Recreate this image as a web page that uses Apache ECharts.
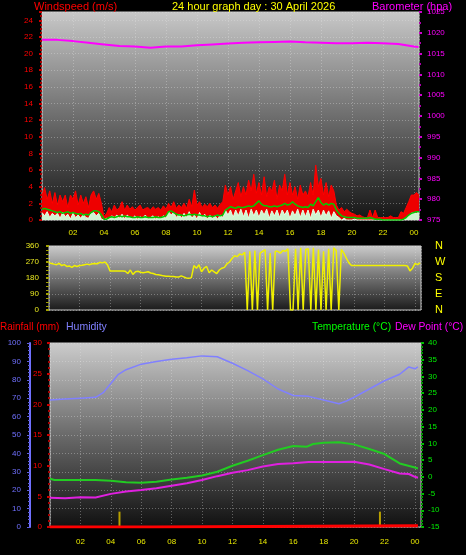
<!DOCTYPE html>
<html><head><meta charset="utf-8">
<script src="https://cdn.jsdelivr.net/npm/echarts@6/dist/echarts.min.js"></script>
<style>html,body{margin:0;padding:0;background:#000;}#c{width:466px;height:555px;}</style>
</head><body><div id="c"></div>
<script>
// ---- Wind (10-minute samples, hour 0 .. 24.33) ----
const gustValues = [
3.0,3.9,2.5,3.5,2.0,3.3, 1.8,3.0,2.2,3.0,1.5,3.0, 2.5,3.5,1.8,3.0,2.0,2.8, 1.5,3.0,3.5,2.5,3.2,2.0,
0.4,0.8,1.5,1.0,1.8,1.2, 1.5,2.2,1.2,1.8,1.3,1.6, 1.2,1.5,1.8,1.2,1.4,1.5, 1.2,1.6,1.3,1.5,1.2,1.7,
1.3,2.0,1.5,2.2,1.4,1.8, 1.5,2.0,1.4,2.5,1.6,3.6, 1.8,2.2,1.5,1.9,1.6,2.0, 1.5,1.8,1.4,1.9,2.2,4.2,
3.0,4.0,2.5,3.5,4.5,2.8, 4.0,3.0,4.8,3.5,5.5,3.2, 4.5,3.0,5.2,2.8,4.0,3.5, 4.8,2.5,4.2,3.5,5.5,3.0,
4.5,3.0,4.0,2.5,4.2,3.0, 3.5,2.8,4.5,3.0,6.6,4.0, 5.0,3.0,4.5,2.8,4.2,3.5, 1.8,1.2,1.5,1.0,1.3,1.0,
0.8,0.7,0.5,0.6,0.4,0.3, 0.3,1.2,0.3,1.2,0.3,0.3, 0.3,0.3,0.3,0.5,0.3,0.3, 0.3,1.0,0.8,1.5,2.2,3.0,
3.0,3.3,3.0];
const avgValues = [
1.3,1.4,1.3,1.2,1.1,1.0, 0.9,1.0,0.8,0.9,1.0,0.8, 0.9,0.8,0.7,0.8,0.6,0.7, 0.6,0.9,1.1,1.1,1.0,0.6,
0.1,0.1,0.3,0.4,0.3,0.4, 0.5,0.4,0.5,0.4,0.4,0.3, 0.3,0.4,0.3,0.3,0.4,0.3, 0.3,0.3,0.4,0.3,0.3,0.4,
0.5,1.0,1.1,0.9,0.7,0.6, 0.6,0.5,0.6,0.7,0.6,0.7, 0.6,0.6,0.5,0.5,0.4,0.5, 0.4,0.5,0.6,0.5,0.6,1.2,
1.4,1.6,1.5,1.4,1.6,1.5, 1.5,1.6,1.7,1.6,1.7,2.0, 2.3,1.9,1.7,1.7,1.6,1.6, 1.7,1.6,1.7,1.8,2.0,1.8,
1.9,2.2,1.9,1.7,1.6,1.5, 1.6,1.5,1.9,1.7,2.2,2.7, 2.1,1.8,2.0,1.8,2.0,1.9, 1.2,0.8,0.5,0.4,0.3,0.3,
0.3,0.3,0.2,0.2,0.2,0.2, 0.2,0.3,0.2,0.1,0.1,0.1, 0.0,0.0,0.0,0.0,0.0,0.0, 0.0,0.0,0.1,0.3,0.6,0.8,
0.9,1.0,1.0];
const speedValues = [
0.9,0.5,1.0,0.3,0.8,0.5, 0.8,0.2,0.9,0.4,0.7,0.1, 0.8,0.3,0.6,0.2,0.7,0.3, 0.2,0.8,0.9,0.5,0.8,0.1,
0.0,0.2,0.1,0.5,0.3,0.6, 0.2,0.7,0.1,0.6,0.3,0.2, 0.5,0.1,0.4,0.2,0.6,0.1, 0.3,0.5,0.1,0.4,0.2,0.5,
0.2,1.0,0.6,0.9,0.3,0.7, 0.2,0.8,0.3,1.0,0.2,0.6, 0.1,0.9,0.3,0.7,0.1,0.6, 0.2,0.5,0.1,0.6,0.3,1.2,
0.6,1.2,0.3,1.2,0.5,1.3, 0.4,1.2,0.2,1.3,0.5,1.2, 0.3,1.2,0.6,1.3,0.2,1.1, 0.5,1.2,0.3,1.2,0.6,1.2,
0.2,1.1,0.5,1.3,0.3,1.2, 0.4,1.2,0.2,1.3,0.6,1.2, 0.3,1.2,0.5,1.1,0.2,1.0, 0.5,0.3,0.0,0.2,0.0,0.0,
0.0,0.1,0.0,0.0,0.0,0.0, 0.0,0.0,0.0,0.0,0.0,0.0, 0.0,0.0,0.0,0.0,0.0,0.0, 0.0,0.0,0.0,0.2,0.5,0.8,
0.9,0.8,1.0];
// ---- Barometer (hourly) ----
const baroTimes = [0,1,2,3,4,5,6,7,8,9,10,11,12,13,14,15,16,17,18,19,20,21,22,23,24,24.3];
const baroValues = [1018.3,1018.3,1018.0,1017.6,1017.2,1016.8,1016.7,1016.4,1016.7,1016.7,1017.0,1017.2,1017.4,1017.6,1017.7,1017.8,1017.9,1017.7,1017.6,1017.5,1017.5,1017.6,1017.5,1017.3,1016.7,1016.6];
// ---- Wind direction (10-minute samples) ----
const dirValues = [
265,262,258,255,262,250, 255,245,248,240,250,245, 250,252,255,258,255,260, 262,260,268,265,270,255,
220,220,220,220,220,220, 218,205,225,200,215,218, 212,210,212,215,208,205, 200,198,195,192,190,190,
188,188,186,185,192,186, 180,178,182,250,235,255, 215,235,245,210,225,215, 205,225,235,240,260,270,
290,305,300,315,310,325, 0,330,0,335,0,320, 330,340,0,320,0,330, 330,320,335,330,345,0,
0,345,0,350,0,340, 345,0,350,0,340,0, 330,0,345,0,350,335, 0,340,320,290,265,250,
250,250,250,250,250,250, 250,250,250,250,250,250, 250,250,250,250,250,250, 250,250,250,248,220,235,
262,255,265];
const dirTickLabels = ['N','E','S','W','N'];
// ---- Humidity / temperature / dew point / rain ----
const humTimes  = [0,1,2,3,3.5,4,4.5,5,6,7,8,9,10,11,12,13,14,15,16,17,18,19,19.5,20,21,22,23,23.6,24,24.2];
const humValues = [69,69.5,70,70.5,73,78,83,85.5,88.5,90,91.2,92,93,92.5,89,85,80.5,75,71.5,71,69,67,68.5,70.5,75,79.5,83,87,86,87];
const tempTimes  = [0,0.3,1,2,3,4,5,6,7,8,9,10,11,12,13,14,15,16,16.9,17.3,18,19,20,21,22,23,24,24.2];
const tempValues = [-0.6,-0.95,-0.95,-0.95,-0.95,-1.2,-1.6,-1.75,-1.5,-0.8,-0.3,0.4,1.5,3.3,4.8,6.5,8.1,9.2,9.0,9.8,10.2,10.3,9.7,8.3,6.8,4.0,2.8,2.5];
const dewTimes  = [0,1,2,3,4,5,6,7,8,9,10,11,12,13,14,15,16,17,18,19,20,21,22,23,23.6,24,24.2];
const dewValues = [-6.25,-6.4,-6.1,-6.2,-5.1,-4.4,-3.95,-3.4,-2.7,-1.95,-0.95,0.2,1.2,2.0,3.1,3.8,4.05,4.4,4.4,4.4,4.5,3.7,2.3,1.0,0.85,0.0,-0.3];
const rainTimes  = [0,6.7,6.72,24.2];
const rainValues = [0,0,0.2,0.2];
const rateTimes  = [4.57,21.7];
const rateValues = [2.5,2.5];

const tenMin = gustValues.map((_, i) => i / 6);
const pairs = (t, v) => t.map((x, i) => [x, v[i]]);

const FONT = 'Liberation Sans, Arial, sans-serif';
const hourLabel = v => {
  if (v === 0 || Math.abs(v - Math.round(v)) > 1e-6) return '';
  const h = Math.round(v) % 24; return (h < 10 ? '0' : '') + h;
};
const bg = (a, b, c) => new echarts.graphic.LinearGradient(0, 0, 0, 1, [
  {offset: 0, color: a}, {offset: 0.5, color: b}, {offset: 1, color: c}]);
const dotted = {show: true, lineStyle: {color: 'rgba(230,230,230,0.35)', type: [1, 2], width: 1}};

const chart = echarts.init(document.getElementById('c'), null, {renderer: 'canvas'});
const t = (text, left, top, color, size) => ({text, left, top, textStyle: {color, fontSize: size || 11, fontWeight: 'normal', fontFamily: FONT}, padding: 0});

chart.setOption({
  backgroundColor: '#000',
  animation: false,
  title: [
    t('Windspeed (m/s)', 34, 1, '#ff0000'),
    t('24 hour graph day : 30 April 2026', 172, 1, '#ffff00'),
    t('Barometer (hpa)', 372, 1, '#ff00ff'),
    t('Rainfall (mm)', 0, 322, '#ff0000', 10),
    t('Humidity', 66, 322, '#8080ff', 10.5),
    t('Temperature (°C)', 312, 322, '#00ff00', 10.3),
    t('Dew Point (°C)', 395, 322, '#ff00ff', 10.3)
  ],
  grid: [
    {left: 42, top: 12, width: 377, height: 208, show: true, backgroundColor: bg('#c8c8c8', '#6e6e6e', '#141414'), borderColor: '#c8c8c8', borderWidth: 1},
    {left: 49, top: 246, width: 372, height: 64, show: true, backgroundColor: bg('#cccccc', '#707070', '#1a1a1a'), borderColor: '#c8c8c8', borderWidth: 1},
    {left: 50, top: 343, width: 371, height: 184, show: true, backgroundColor: bg('#cccccc', '#6a6a6a', '#101010'), borderColor: '#c8c8c8', borderWidth: 1}
  ],
  xAxis: [
    {gridIndex: 0, type: 'value', min: 0, max: 24.33, interval: 2,
     axisLine: {show: false}, axisTick: {show: false}, splitLine: dotted,
     axisLabel: {formatter: hourLabel, color: '#e8e800', fontSize: 8, fontFamily: FONT, margin: 9}},
    {gridIndex: 1, type: 'value', min: 0, max: 24.39, interval: 2,
     axisLine: {show: false}, axisTick: {show: false}, splitLine: dotted, axisLabel: {show: false}},
    {gridIndex: 2, type: 'value', min: 0, max: 24.4, interval: 2,
     axisLine: {show: false}, axisTick: {show: false}, splitLine: dotted,
     axisLabel: {formatter: hourLabel, color: '#e8e800', fontSize: 8, fontFamily: FONT, margin: 11}}
  ],
  yAxis: [
    {gridIndex: 0, type: 'value', position: 'left', min: 0, max: 25, interval: 2,
     axisLine: {show: false}, axisTick: {show: true, length: 3, lineStyle: {color: '#cc0000', width: 2}},
     minorTick: {show: true, splitNumber: 4, length: 2, lineStyle: {color: '#aa0000', width: 2}},
     splitLine: dotted,
     axisLabel: {formatter: v => (v % 2 === 0 ? String(v) : ''), color: '#ff0000', fontSize: 8, fontFamily: FONT, margin: 9}},
    {gridIndex: 0, type: 'value', position: 'right', min: 975, max: 1025, interval: 5,
     axisLine: {show: false}, axisTick: {show: true, length: 3, lineStyle: {color: '#cc00cc', width: 2}},
     minorTick: {show: true, splitNumber: 2, length: 2, lineStyle: {color: '#aa00aa', width: 2}},
     splitLine: {show: false},
     axisLabel: {formatter: v => String(Math.round(v)), color: '#ff00ff', fontSize: 8, fontFamily: FONT, margin: 8}},
    {gridIndex: 1, type: 'value', position: 'left', min: 0, max: 360, interval: 90,
     axisLine: {show: false}, axisTick: {show: true, length: 3, lineStyle: {color: '#a0a000', width: 2}},
     minorTick: {show: true, splitNumber: 4, length: 3, lineStyle: {color: '#a0a000', width: 1}},
     splitLine: dotted,
     axisLabel: {color: '#e8e820', fontSize: 8, fontFamily: FONT, margin: 10}},
    {gridIndex: 1, type: 'value', position: 'right', min: 0, max: 360, interval: 90,
     axisLine: {show: false}, axisTick: {show: false}, splitLine: {show: false},
     axisLabel: {formatter: v => dirTickLabels[Math.round(v / 90)], color: '#ffff00', fontSize: 11, fontFamily: FONT, margin: 14}},
    {gridIndex: 2, type: 'value', position: 'left', min: 0, max: 30, interval: 5,
     axisLine: {show: false}, axisTick: {show: true, length: 3, lineStyle: {color: '#cc0000', width: 2}},
     minorTick: {show: true, splitNumber: 5, length: 2, lineStyle: {color: '#aa0000', width: 2}},
     splitLine: {show: false},
     axisLabel: {color: '#ff0000', fontSize: 8, fontFamily: FONT, margin: 8}},
    {gridIndex: 2, type: 'value', position: 'left', offset: 20, min: 0, max: 100, interval: 10,
     axisLine: {show: true, lineStyle: {color: '#7070ff', width: 2}},
     axisTick: {show: true, length: 3, lineStyle: {color: '#6060dd', width: 1}},
     minorTick: {show: true, splitNumber: 5, length: 2, lineStyle: {color: '#6060dd', width: 1}},
     splitLine: dotted,
     axisLabel: {color: '#7070ff', fontSize: 8, fontFamily: FONT, margin: 9}},
    {gridIndex: 2, type: 'value', position: 'right', min: -15, max: 40, interval: 5,
     axisLine: {show: false}, axisTick: {show: true, length: 3, lineStyle: {color: '#00bb00', width: 2}},
     minorTick: {show: true, splitNumber: 5, length: 2, lineStyle: {color: '#009900', width: 2}},
     splitLine: {show: false},
     axisLabel: {color: '#00ee00', fontSize: 8, fontFamily: FONT, margin: 7}}
  ],
  series: [
    {type: 'line', xAxisIndex: 0, yAxisIndex: 0, data: pairs(tenMin, gustValues), symbol: 'none',
     lineStyle: {color: '#ff0000', width: 1}, areaStyle: {color: '#ee0000', opacity: 1}},
    {type: 'line', xAxisIndex: 0, yAxisIndex: 0, data: pairs(tenMin, speedValues), symbol: 'none',
     lineStyle: {color: '#e0ffe0', width: 1}, areaStyle: {color: '#d0f4d0', opacity: 1}},
    {type: 'line', xAxisIndex: 0, yAxisIndex: 0, data: pairs(tenMin, avgValues), symbol: 'none',
     lineStyle: {color: '#00cc00', width: 1.5}},
    {type: 'line', xAxisIndex: 0, yAxisIndex: 1, data: pairs(baroTimes, baroValues), symbol: 'none',
     lineStyle: {color: '#ff00ff', width: 2}},
    {type: 'line', xAxisIndex: 1, yAxisIndex: 2, data: pairs(tenMin, dirValues), symbol: 'none',
     lineStyle: {color: '#f0f000', width: 1.5}},
    {type: 'bar', xAxisIndex: 2, yAxisIndex: 4, data: pairs(rateTimes, rateValues), barWidth: 2,
     itemStyle: {color: '#b8a000'}},
    {type: 'line', xAxisIndex: 2, yAxisIndex: 5, data: pairs(humTimes, humValues), symbol: 'none',
     lineStyle: {color: '#8080ff', width: 1.5}},
    {type: 'line', xAxisIndex: 2, yAxisIndex: 6, data: pairs(tempTimes, tempValues), symbol: 'none',
     lineStyle: {color: '#22cc22', width: 2}},
    {type: 'line', xAxisIndex: 2, yAxisIndex: 6, data: pairs(dewTimes, dewValues), symbol: 'none',
     lineStyle: {color: '#e020e0', width: 2}},
    {type: 'line', xAxisIndex: 2, yAxisIndex: 4, data: pairs(rainTimes, rainValues), symbol: 'none',
     lineStyle: {color: '#ff0000', width: 3}}
  ]
});
</script></body></html>
